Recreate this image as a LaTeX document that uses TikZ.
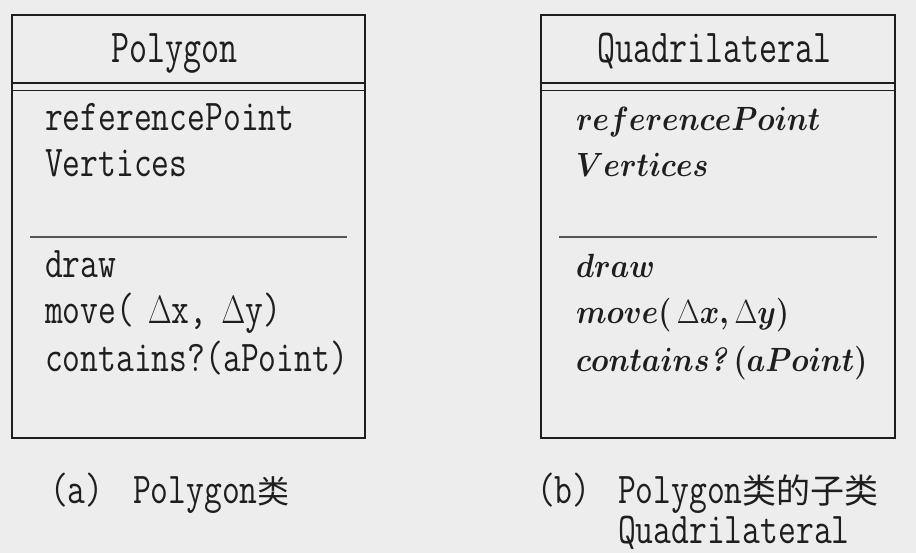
\documentclass[tikz,border=0pt]{standalone}
\usepackage{fontspec}
\usepackage{graphicx}
\newfontfamily\cjk{Noto Sans CJK SC}
\definecolor{bg}{HTML}{EDEDED}
\definecolor{ink}{HTML}{1E1E1E}
\definecolor{sepc}{HTML}{555555}
\newcommand{\mt}[1]{\scalebox{1}[1.27]{\ttfamily #1}}
\newcommand{\mtt}[1]{\scalebox{1}[1.35]{\ttfamily #1}}
\newcommand{\ib}[1]{\scalebox{1.43}[1.62]{\fontsize{20.74}{20.74}\selectfont\boldmath #1}}
\newcommand{\ub}[1]{\mbox{\unboldmath$#1$}}
\newcommand{\bigD}{\scalebox{1.25}{$\Delta$}}
\tikzset{
  boxline/.style={draw=ink, line width=2.6pt},
  dblline/.style={draw=ink, line width=1.8pt},
  sepline/.style={draw=sepc, line width=1.8pt},
  mtext/.style={anchor=base west, inner sep=0pt, outer sep=0pt, text=ink, font=\fontsize{34.6}{34.6}\selectfont},
  ttext/.style={anchor=base west, inner sep=0pt, outer sep=0pt, text=ink, font=\fontsize{35}{35}\selectfont},
  itext/.style={anchor=base west, inner sep=0pt, outer sep=0pt, text=ink},
  ctext/.style={anchor=base west, inner sep=0pt, outer sep=0pt, text=ink, font=\fontsize{34.6}{34.6}\selectfont},
}
\begin{document}
\begin{tikzpicture}[x=1pt,y=-1pt]
\useasboundingbox (0,0) rectangle (916,553);
\fill[bg] (0,0) rectangle (916,553);
% left box
\draw[boxline] (12,15) rectangle (365,438);
\draw[dblline] (12,83) -- (365,83);
\draw[dblline] (12,90.5) -- (365,90.5);
\draw[sepline] (30,237) -- (347,237);
\node[ttext] (ltitle) at (111,63) {\mtt{Polygon}};
\node[mtext] (la1) at (45,131) {\mt{referencePoint}};
\node[mtext] (la2) at (45,177) {\mt{Vertices}};
\node[mtext] (lm1) at (45,278) {\mt{draw}};
\node[mtext] (lm2) at (45,324) {\mt{move(\hspace{0.4em}\bigD x,\hspace{0.4em}\bigD y)}};
\node[mtext] (lm3) at (45,371) {\mt{contains?(aPoint)}};
% right box
\draw[boxline] (541,15) rectangle (895,438);
\draw[dblline] (541,83) -- (895,83);
\draw[dblline] (541,90.5) -- (895,90.5);
\draw[sepline] (559,237) -- (877,237);
\node[ttext] (rtitle) at (597,63) {\mtt{Quadrilateral}};
\node[itext] (ra1) at (576,131) {\ib{$referencePoint$}};
\node[itext] (ra2) at (576,177) {\ib{$Vertices$}};
\node[itext] (rm1) at (576,278) {\ib{$draw$}};
\node[itext] (rm2) at (576,324) {\ib{$move(\,\ub{\Delta} x, \ub{\Delta} y)$}};
\node[itext] (rm3) at (576,371) {\ib{$contains\textbf{\textit{?}}\,(aPoint)$}};
% captions
\node[ctext] (ca1) at (50,503) {\mt{(a)}};
\node[ctext] (ca2) at (133,503) {\mt{Polygon}{\cjk\fontsize{32}{32}\selectfont 类}};
\node[ctext] (cb1) at (537,503) {\mt{(b)}};
\node[ctext] (cb2) at (618,503) {\mt{Polygon}{\cjk\fontsize{34}{34}\selectfont 类的子类}};
\node[ctext] (cb3) at (618,543) {\mt{Quadrilateral}};
\end{tikzpicture}
\end{document}
